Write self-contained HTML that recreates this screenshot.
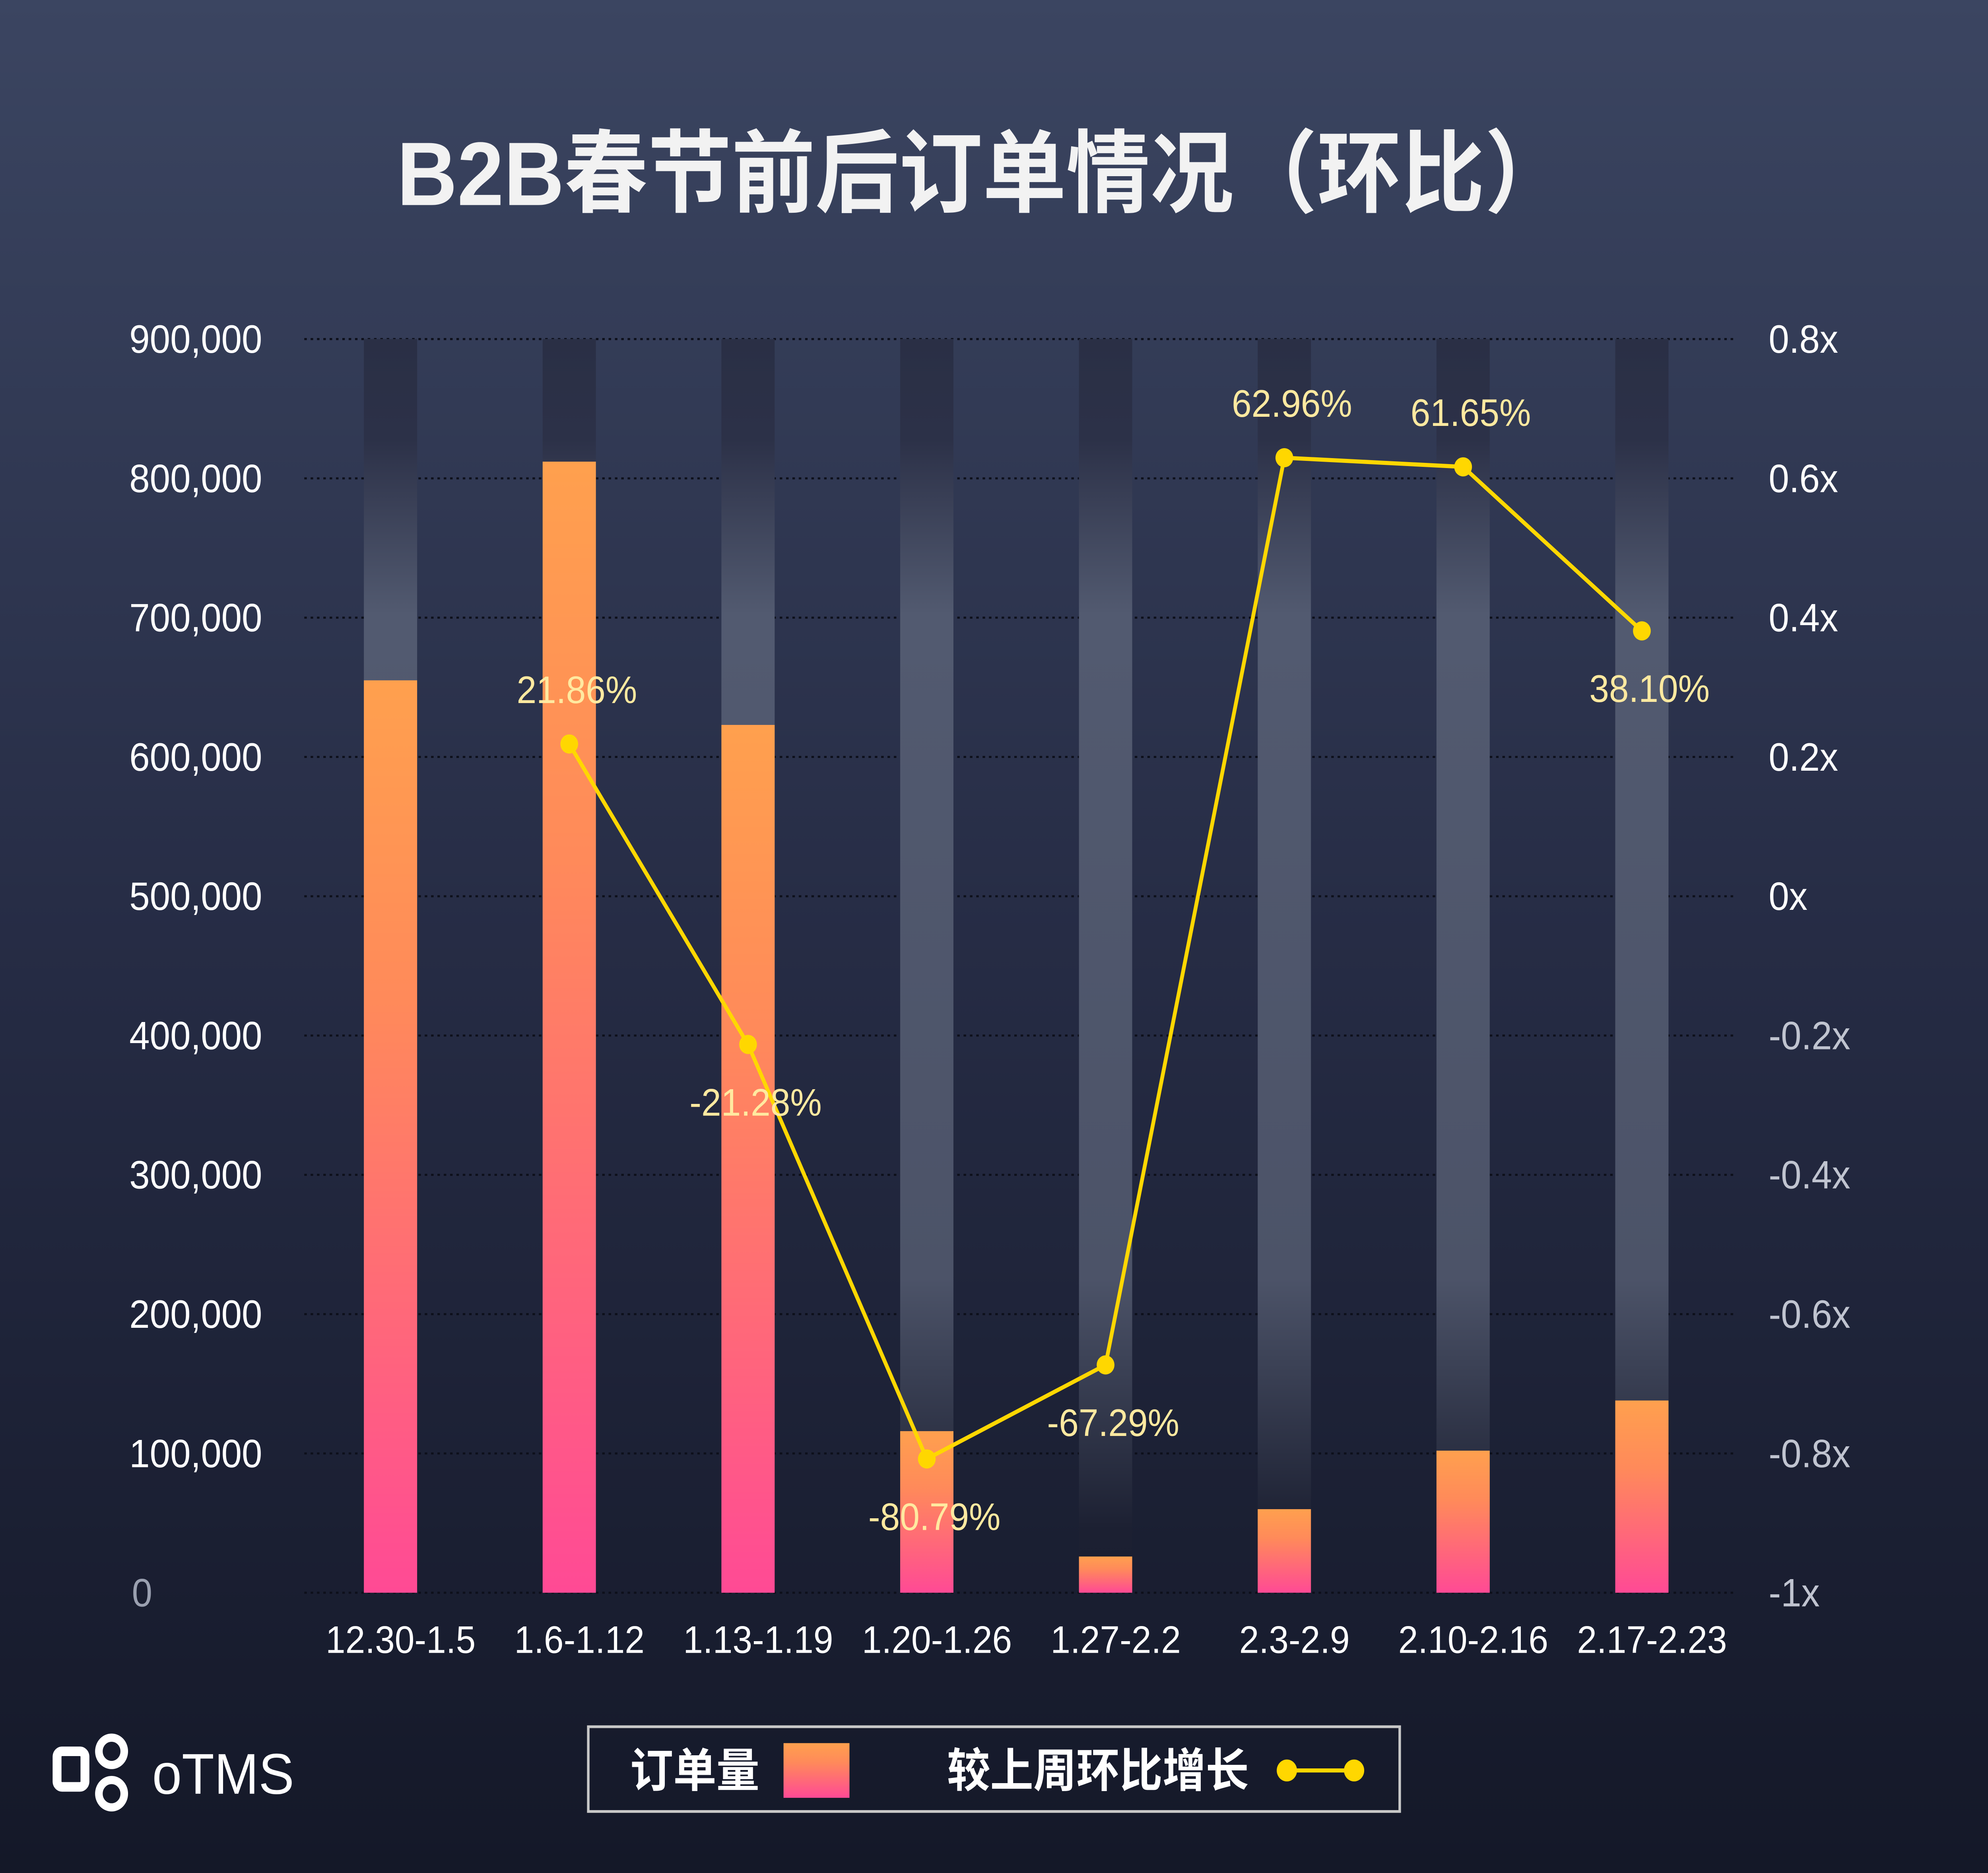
<!DOCTYPE html>
<html><head><meta charset="utf-8"><style>
html,body{margin:0;padding:0;background:#1a1f33;width:100vw;height:100vh;overflow:hidden;}
#chart{position:absolute;left:0;top:0;width:100vw;height:100vh;display:block;font-family:"Liberation Sans","Noto Sans CJK SC",sans-serif;}
</style></head><body>
<svg id="chart" viewBox="0 0 1568 1370" preserveAspectRatio="none" xmlns="http://www.w3.org/2000/svg">
<defs>
<linearGradient id="bg" x1="0" y1="0" x2="0" y2="1"><stop offset="0" stop-color="#3b4561"/><stop offset="0.5" stop-color="#262c45"/><stop offset="1" stop-color="#141828"/></linearGradient>
<linearGradient id="ghost" x1="0" y1="0" x2="0" y2="1"><stop offset="0" stop-color="#2a2f45"/><stop offset="0.08" stop-color="#2c3148"/><stop offset="0.22" stop-color="#525a70"/><stop offset="0.75" stop-color="#4c5368"/><stop offset="0.95" stop-color="#1c2032"/><stop offset="1" stop-color="#1a1e30"/></linearGradient>
<linearGradient id="barg" x1="0" y1="0" x2="0" y2="1" gradientUnits="objectBoundingBox"><stop offset="0" stop-color="#ffa04e"/><stop offset="0.35" stop-color="#ff8a5a"/><stop offset="1" stop-color="#ff4a95"/></linearGradient>
</defs>
<rect x="0" y="0" width="1568" height="1370" fill="url(#bg)"/>
<text x="775" y="150" text-anchor="middle" font-size="66" font-weight="bold" fill="#f2f2f2">B2B春节前后订单情况（环比）</text>
<g id="grid"></g><g id="ghosts"></g><g id="bars"></g><g id="line"></g><g id="axes"></g>
<rect x="464" y="1263" width="640" height="62" fill="none" stroke="#c8c8c8" stroke-width="2"/>
<text x="548" y="1307" text-anchor="middle" font-size="34" font-weight="bold" fill="#fff">订单量</text>
<rect x="618" y="1275" width="52" height="40" fill="url(#barg)"/>
<text x="866" y="1307" text-anchor="middle" font-size="34" font-weight="bold" fill="#fff">较上周环比增长</text>
<line x1="1015" y1="1295" x2="1068" y2="1295" stroke="#ffd700" stroke-width="3"/>
<circle cx="1015" cy="1295" r="8" fill="#ffd700"/>
<circle cx="1068" cy="1295" r="8" fill="#ffd700"/>
<g>
<rect x="45" y="1281" width="22" height="26" rx="4" fill="none" stroke="#fff" stroke-width="7"/>
<circle cx="88" cy="1281" r="10" fill="none" stroke="#fff" stroke-width="6"/>
<circle cx="88" cy="1312" r="10" fill="none" stroke="#fff" stroke-width="6"/>
<text x="120" y="1312" font-size="42" fill="#fff">oTMS</text>
</g>
<script>
const categories=["12.30-1.5","1.6-1.12","1.13-1.19","1.20-1.26","1.27-2.2","2.3-2.9","2.10-2.16","2.17-2.23"];
const orders=[655000,812000,623000,116000,26000,60000,102000,138000];
const growth=[null,21.86,-21.28,-80.79,-67.29,62.96,61.65,38.10];
const growthLabels=["","21.86%","-21.28%","-80.79%","-67.29%","62.96%","61.65%","38.10%"];
const leftTicks=[0,100000,200000,300000,400000,500000,600000,700000,800000,900000];
const rightTicks=[-1,-0.8,-0.6,-0.4,-0.2,0,0.2,0.4,0.6,0.8];
const rightTickLabels=["-1x","-0.8x","-0.6x","-0.4x","-0.2x","0x","0.2x","0.4x","0.6x","0.8x"];
const labelAbove=[false,true,false,false,false,true,true,false];
const NS="http://www.w3.org/2000/svg";
const y0=1165,yTop=248;
function yL(v){return y0-(v/900000)*(y0-yTop);}
function yR(v){return y0-((v+1)/1.8)*(y0-yTop);}
function xC(i){return 308+i*141;}
function mk(t,a,p){const e=document.createElementNS(NS,t);for(const k in a)e.setAttribute(k,a[k]);document.getElementById(p).appendChild(e);return e;}
leftTicks.forEach((v,i)=>{
 const g=mk('line',{x1:240,x2:1370,y1:yL(v),y2:yL(v),stroke:'#0d0f1a','stroke-width':1.5,'stroke-dasharray':'2 3'},'grid');
 
 
 const t=mk('text',{x:v===0?104:102,y:yL(v)+10,'font-size':29,fill:v===0?'#9aa0b0':'#fff'},'axes');
 t.textContent=v.toLocaleString('en-US');
 
 
});
rightTicks.forEach((v,i)=>{
 const t=mk('text',{x:1395,y:yR(v)+10,'font-size':29,fill:v<0?'#c0c4d0':'#fff'},'axes');
 t.textContent=rightTickLabels[i];
 
 
});
categories.forEach((c,i)=>{
 const gb=mk('rect',{x:xC(i)-21,y:yTop,width:42,height:y0-yTop,fill:'url(#ghost)'},'ghosts');
 
 
 const b=mk('rect',{x:xC(i)-21,y:yL(orders[i]),width:42,height:y0-yL(orders[i]),fill:'url(#barg)'},'bars');
 
 
 const t=mk('text',{x:xC(i)+8,y:1209,'text-anchor':'middle','font-size':28,fill:'#fff'},'axes');
 t.textContent=c;
 
 
});
const pts=[];growth.forEach((g,i)=>{if(g!==null)pts.push([xC(i),yR(g/100),i]);});
const pl=mk('polyline',{points:pts.map(p=>p[0]+','+p[1]).join(' '),fill:'none',stroke:'#ffd700','stroke-width':3},'line');


pts.forEach(p=>{
 const c=mk('circle',{cx:p[0],cy:p[1],r:7,fill:'#ffd700'},'line');
 
 
 const t=mk('text',{x:p[0]+6,y:labelAbove[p[2]]?p[1]-30:p[1]+52,'text-anchor':'middle','font-size':28,fill:'#ffe9a0'},'line');
 t.textContent=growthLabels[p[2]];
 
 
});
</script>
</svg>
</body></html>
